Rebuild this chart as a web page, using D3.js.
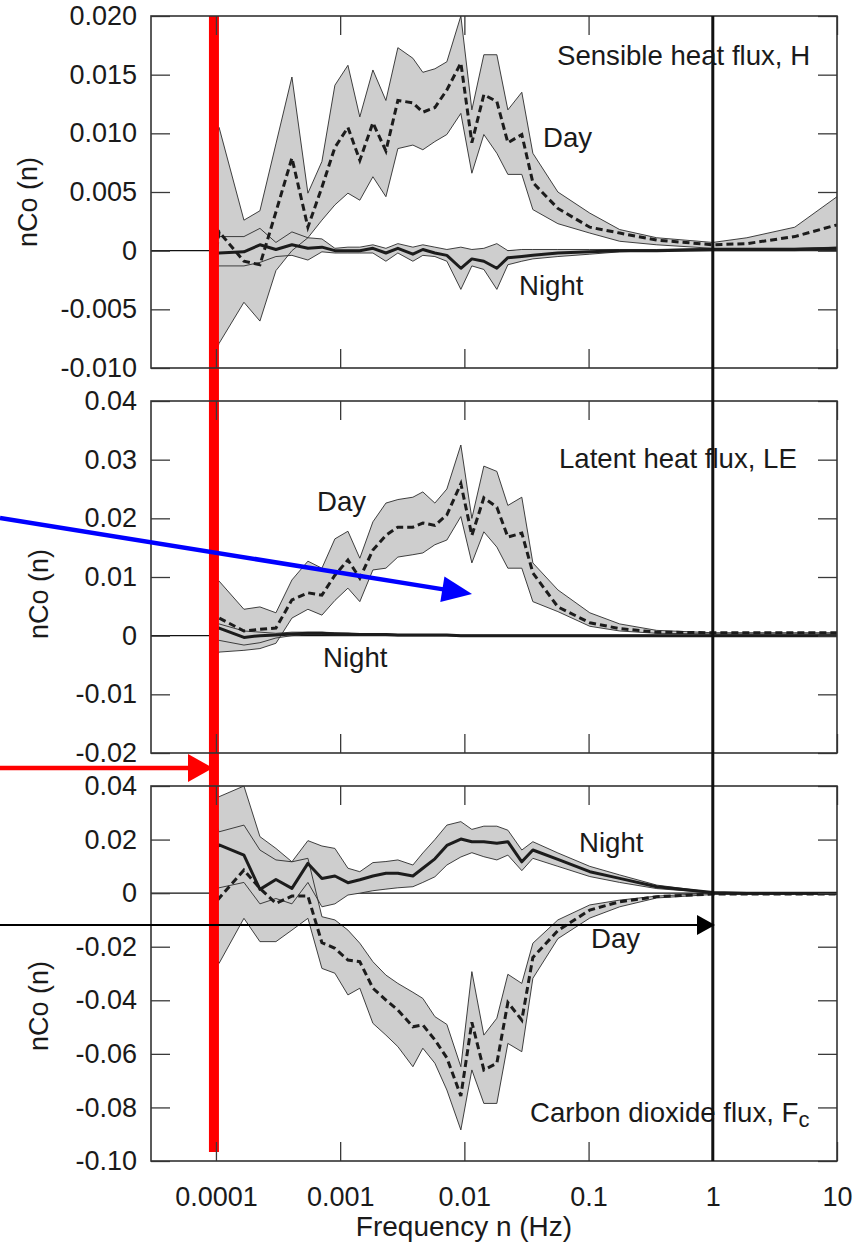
<!DOCTYPE html>
<html>
<head>
<meta charset="utf-8">
<title>Normalised cospectra H, LE, Fc</title>
<script src="https://cdn.jsdelivr.net/npm/d3@7"></script>
<style>
  body { margin: 0; background: #fff; }
  text { font-family: "Liberation Sans", Arial, Helvetica, sans-serif; fill: #1a1a1a; }
</style>
</head>
<body>
<script>
// frequency bins (Hz)
var freq = [9.12e-5, 1.06e-4, 1.68e-4, 2.26e-4, 3.04e-4, 4.09e-4, 5.50e-4, 7.13e-4, 9.07e-4, 1.155e-3,
            1.44e-3, 1.835e-3, 2.335e-3, 2.915e-3, 3.85e-3, 4.63e-3, 5.79e-3, 7.23e-3, 9.37e-3, 1.149e-2,
            1.435e-2, 1.826e-2, 2.24e-2, 2.90e-2, 3.56e-2, 5.66e-2, 0.1023, 0.178, 0.354, 1.0,
            1.88, 4.57, 10];

// sensible heat flux H
var hDayMean = [-0.0036, 0.0016, -0.0009, -0.0012, 0.0033, 0.0079, 0.0020, 0.0054, 0.0088, 0.0105, 0.0077, 0.0109, 0.0085, 0.0128, 0.0126, 0.0118, 0.0122, 0.0137, 0.0160, 0.0092, 0.0133, 0.0127, 0.0092, 0.0099, 0.0058, 0.0036, 0.0020, 0.0015, 0.0009, 0.0005, 0.0006, 0.0012, 0.0022];
var hDayHi   = [0.0082, 0.0105, 0.0026, 0.0034, 0.0091, 0.0148, 0.0049, 0.0076, 0.0141, 0.0158, 0.0114, 0.0154, 0.0128, 0.0173, 0.0164, 0.0152, 0.0155, 0.0161, 0.0200, 0.0120, 0.0167, 0.0167, 0.0120, 0.0135, 0.0083, 0.0050, 0.0032, 0.0018, 0.0011, 0.0007, 0.0011, 0.0020, 0.0046];
var hDayLo   = [-0.0100, -0.0079, -0.0044, -0.0060, -0.0017, 0.0000, 0.0011, 0.0026, 0.0039, 0.0049, 0.0043, 0.0063, 0.0046, 0.0087, 0.0090, 0.0086, 0.0093, 0.0099, 0.0117, 0.0066, 0.0099, 0.0083, 0.0065, 0.0065, 0.0035, 0.0023, 0.0015, 0.0008, 0.0005, 0.0002, 0.0002, 0.0002, 0.0002];
var hNightMean = [-0.0002, -0.0002, -0.0001, 0.0005, 0.0001, 0.0005, 0.0002, 0.0003, 0.0000, 0.0000, 0.0000, 0.0002, -0.0002, 0.0002, -0.0003, 0.0001, -0.0002, -0.0004, -0.0015, -0.0007, -0.0009, -0.0015, -0.0006, -0.0005, -0.0004, -0.0002, -0.0001, 0.0000, 0.0000, 0.0001, 0.0001, 0.0001, 0.0002];
var hNightHi   = [0.0011, 0.0012, 0.0012, 0.0019, 0.0007, 0.0016, 0.0011, 0.0010, 0.0002, 0.0003, 0.0003, 0.0005, 0.0002, 0.0006, 0.0003, 0.0005, 0.0003, 0.0001, 0.0003, 0.0001, 0.0002, 0.0006, 0.0000, 0.0001, 0.0001, 0.0001, 0.0001, 0.0001, 0.0001, 0.0002, 0.0002, 0.0002, 0.0003];
var hNightLo   = [-0.0013, -0.0013, -0.0013, -0.0010, -0.0005, -0.0004, -0.0008, -0.0001, -0.0002, -0.0002, -0.0002, -0.0002, -0.0009, -0.0002, -0.0009, -0.0004, -0.0005, -0.0009, -0.0033, -0.0013, -0.0016, -0.0033, -0.0012, -0.0009, -0.0007, -0.0005, -0.0003, -0.0001, 0.0000, 0.0000, 0.0000, 0.0000, 0.0001];

// latent heat flux LE
var leDayMean = [0.0018, 0.0030, 0.0008, 0.0011, 0.0013, 0.0061, 0.0073, 0.0069, 0.0103, 0.0129, 0.0098, 0.0146, 0.0171, 0.0185, 0.0185, 0.0192, 0.0188, 0.0206, 0.0259, 0.0171, 0.0235, 0.0219, 0.0168, 0.0175, 0.0107, 0.0049, 0.0022, 0.0012, 0.0006, 0.0005, 0.0005, 0.0005, 0.0005];
var leDayHi   = [0.0086, 0.0093, 0.0045, 0.0049, 0.0039, 0.0095, 0.0127, 0.0115, 0.0165, 0.0178, 0.0132, 0.0194, 0.0226, 0.0232, 0.0236, 0.0245, 0.0226, 0.0250, 0.0325, 0.0200, 0.0289, 0.0280, 0.0222, 0.0236, 0.0124, 0.0078, 0.0039, 0.0020, 0.0009, 0.0005, 0.0005, 0.0005, 0.0005];
var leDayLo   = [-0.0047, -0.0028, -0.0025, -0.0022, -0.0013, 0.0030, 0.0045, 0.0035, 0.0060, 0.0081, 0.0058, 0.0112, 0.0115, 0.0134, 0.0138, 0.0141, 0.0155, 0.0163, 0.0203, 0.0124, 0.0177, 0.0151, 0.0115, 0.0115, 0.0058, 0.0041, 0.0016, 0.0008, 0.0004, 0.0003, 0.0003, 0.0003, 0.0003];
var leNightMean = [0.0010, 0.0013, -0.0003, 0.0000, 0.0001, 0.0003, 0.0004, 0.0004, 0.0003, 0.0003, 0.0002, 0.0002, 0.0002, 0.0001, 0.0001, 0.0001, 0.0001, 0.0001, 0, 0, 0, 0, 0, 0, 0, 0, 0, 0, 0, 0, 0, 0, 0];
var leNightHi   = [0.0017, 0.0020, 0.0008, 0.0006, 0.0004, 0.0006, 0.0006, 0.0006, 0.0005, 0.0004, 0.0003, 0.0003, 0.0003, 0.0002, 0.0002, 0.0002, 0.0002, 0.0002, 0.0001, 0.0001, 0.0001, 0.0001, 0.0001, 0.0001, 0.0001, 0.0001, 0.0001, 0.0001, 0.0001, 0.0001, 0.0001, 0.0001, 0.0001];
var leNightLo   = [-0.0005, -0.0008, -0.0016, -0.0012, -0.0004, 0.0000, 0.0002, 0.0002, 0.0001, 0.0001, 0.0001, 0.0001, 0.0001, 0, 0, 0, 0, 0, -0.0001, -0.0001, -0.0001, -0.0001, -0.0001, -0.0001, -0.0001, -0.0001, -0.0001, -0.0001, -0.0001, -0.0001, -0.0001, -0.0001, -0.0001];

// carbon dioxide flux Fc
var fcDayMean = [0.0067, -0.0019, 0.0086, 0.0018, -0.0038, -0.0011, -0.0011, -0.0185, -0.0206, -0.0250, -0.0256, -0.0355, -0.0399, -0.0436, -0.0499, -0.0492, -0.0548, -0.0615, -0.0757, -0.0482, -0.0660, -0.0635, -0.0408, -0.0474, -0.0240, -0.0140, -0.0063, -0.0032, -0.0013, -0.0003, -0.0003, -0.0003, -0.0003];
var fcDayHi   = [0.0304, 0.0229, 0.0254, 0.0161, 0.0124, 0.0117, 0.0130, -0.0088, -0.0100, -0.0138, -0.0187, -0.0256, -0.0306, -0.0337, -0.0370, -0.0393, -0.0461, -0.0490, -0.0648, -0.0293, -0.0530, -0.0467, -0.0303, -0.0337, -0.0187, -0.0100, -0.0044, -0.0026, -0.0011, 0.0000, 0.0000, 0.0000, 0.0000];
var fcDayLo   = [-0.0219, -0.0262, -0.0094, -0.0181, -0.0181, -0.0138, -0.0094, -0.0281, -0.0299, -0.0380, -0.0355, -0.0486, -0.0530, -0.0573, -0.0648, -0.0579, -0.0635, -0.0735, -0.0884, -0.0660, -0.0785, -0.0785, -0.0561, -0.0592, -0.0318, -0.0170, -0.0093, -0.0051, -0.0018, -0.0005, -0.0005, -0.0005, -0.0005];
var fcNightMean = [0.0142, 0.0180, 0.0142, 0.0014, 0.0051, 0.0018, 0.0111, 0.0055, 0.0064, 0.0039, 0.0050, 0.0064, 0.0074, 0.0074, 0.0064, 0.0093, 0.0128, 0.0178, 0.0202, 0.0192, 0.0192, 0.0186, 0.0192, 0.0117, 0.0161, 0.0126, 0.0080, 0.0055, 0.0024, 0.0002, 0.0000, 0.0000, 0.0000];
var fcNightHi   = [0.0385, 0.0360, 0.0400, 0.0211, 0.0167, 0.0117, 0.0196, 0.0176, 0.0167, 0.0093, 0.0080, 0.0114, 0.0118, 0.0124, 0.0105, 0.0150, 0.0200, 0.0254, 0.0267, 0.0238, 0.0250, 0.0250, 0.0235, 0.0161, 0.0192, 0.0150, 0.0100, 0.0068, 0.0030, 0.0003, 0.0000, 0.0000, 0.0000];
var fcNightLo   = [0.0000, 0.0020, 0.0040, -0.0040, -0.0020, -0.0040, 0.0040, -0.0051, -0.0040, -0.0007, 0.0000, 0.0009, 0.0015, 0.0020, 0.0024, 0.0040, 0.0061, 0.0105, 0.0135, 0.0151, 0.0136, 0.0124, 0.0142, 0.0084, 0.0130, 0.0100, 0.0062, 0.0040, 0.0017, 0.0001, 0.0000, 0.0000, 0.0000];

// axes
var xTicks = [1e-4, 1e-3, 1e-2, 0.1, 1, 10];
var xTickLabels = ["0.0001", "0.001", "0.01", "0.1", "1", "10"];
var hTicks  = [-0.010, -0.005, 0, 0.005, 0.010, 0.015, 0.020];
var leTicks = [-0.02, -0.01, 0, 0.01, 0.02, 0.03, 0.04];
var fcTicks = [-0.10, -0.08, -0.06, -0.04, -0.02, 0, 0.02, 0.04];

var width = 855, height = 1245;
var left = 151, right = 837;
var tickLen = 19;

var svg = d3.select("body").append("svg")
            .attr("width", width)
            .attr("height", height);

var x = d3.scaleLog()
          .domain([3e-5, 10])
          .range([left, right]);

function fmt(p) {
    var f = d3.format("." + p + "f");
    return function(d) { return d === 0 ? "0" : f(d).replace("\u2212", "-"); };
}

var panels = [
    { top: 16,  bottom: 368,  ticks: hTicks,  fmt: fmt(3), labX: 37,
      day: [hDayMean, hDayLo, hDayHi], night: [hNightMean, hNightLo, hNightHi] },
    { top: 401, bottom: 753,  ticks: leTicks, fmt: fmt(2), labX: 48,
      day: [leDayMean, leDayLo, leDayHi], night: [leNightMean, leNightLo, leNightHi] },
    { top: 786, bottom: 1161, ticks: fcTicks, fmt: fmt(2), labX: 48,
      day: [fcDayMean, fcDayLo, fcDayHi], night: [fcNightMean, fcNightLo, fcNightHi] }
];
var yLabelCenters = [202, 594, 1006];

var dataLayer = svg.append("g");
var overLayer = svg.append("g");
var axisLayer = svg.append("g");
var topLayer = svg.append("g");

panels.forEach(function(p, k) {
    var y = d3.scaleLinear()
              .domain([p.ticks[0], p.ticks[p.ticks.length - 1]])
              .range([p.bottom, p.top]);
    p.y = y;

    svg.append("clipPath").attr("id", "clip" + k)
       .append("rect")
       .attr("x", left).attr("y", p.top)
       .attr("width", right - left).attr("height", p.bottom - p.top);

    var g = dataLayer.append("g").attr("clip-path", "url(#clip" + k + ")");

    // zero line
    g.append("line")
     .attr("x1", left).attr("x2", right)
     .attr("y1", y(0)).attr("y2", y(0))
     .attr("stroke", "#111").attr("stroke-width", 1.4);

    var idx = d3.range(freq.length);
    var band = function(s) {
        return d3.area()
                 .x(function(i) { return x(freq[i]); })
                 .y0(function(i) { return y(s[1][i]); })
                 .y1(function(i) { return y(s[2][i]); });
    };
    var line = function(arr) {
        return d3.line()
                 .x(function(i) { return x(freq[i]); })
                 .y(function(i) { return y(arr[i]); });
    };

    [p.day, p.night].forEach(function(s) {
        g.append("path").attr("d", band(s)(idx))
         .attr("fill", "#cecece").attr("stroke", "none");
    });
    [p.day, p.night].forEach(function(s) {
        [s[1], s[2]].forEach(function(arr) {
            g.append("path").attr("d", line(arr)(idx))
             .attr("fill", "none").attr("stroke", "#2b2b2b").attr("stroke-width", 0.9);
        });
    });
    g.append("path").attr("d", line(p.night[0])(idx))
     .attr("fill", "none").attr("stroke", "#1c1c1c").attr("stroke-width", 3)
     .attr("stroke-linejoin", "round");
    g.append("path").attr("d", line(p.day[0])(idx))
     .attr("fill", "none").attr("stroke", "#1c1c1c").attr("stroke-width", 3)
     .attr("stroke-dasharray", "7,4");

    // axes, ticks pointing inwards on all four sides
    var ax = axisLayer.append("g");
    ax.append("g").attr("transform", "translate(" + left + ",0)")
      .call(d3.axisLeft(y).tickValues(p.ticks).tickFormat(p.fmt)
              .tickSizeInner(-tickLen).tickSizeOuter(0).tickPadding(14));
    ax.append("g").attr("transform", "translate(" + right + ",0)")
      .call(d3.axisRight(y).tickValues(p.ticks).tickFormat("")
              .tickSizeInner(-tickLen).tickSizeOuter(0));
    ax.append("g").attr("transform", "translate(0," + p.top + ")")
      .call(d3.axisTop(x).tickValues(xTicks).tickFormat("")
              .tickSizeInner(-tickLen).tickSizeOuter(0));
    var xb = d3.axisBottom(x).tickValues(xTicks).tickSizeInner(-tickLen).tickSizeOuter(0).tickPadding(26);
    xb.tickFormat(k === 2 ? function(d, i) { return xTickLabels[i]; } : "");
    ax.append("g").attr("transform", "translate(0," + p.bottom + ")").call(xb);

    ax.selectAll(".domain").remove();
    ax.selectAll(".tick line").attr("stroke", "#3a3a3a").attr("stroke-width", 1.3);
    ax.selectAll("g").attr("font-size", null).attr("font-family", null);
    ax.selectAll("text").style("font-size", "27px").attr("fill", "#1a1a1a");

    ax.append("rect")
      .attr("x", left).attr("y", p.top)
      .attr("width", right - left).attr("height", p.bottom - p.top)
      .attr("fill", "none").attr("stroke", "#333").attr("stroke-width", 1.6);

    topLayer.append("text")
       .attr("transform", "translate(" + p.labX + "," + yLabelCenters[k] + ") rotate(-90)")
       .attr("text-anchor", "middle")
       .style("font-size", "27px")
       .text("nCo (n)");
});

// red marker bar at the low frequency end
overLayer.append("rect")
    .attr("x", x(1e-4) - 7).attr("y", 16)
    .attr("width", 10).attr("height", 1152 - 16)
    .attr("fill", "#ff0000");

// vertical line at 1 Hz
topLayer.append("line")
    .attr("x1", x(1)).attr("x2", x(1))
    .attr("y1", 16).attr("y2", 1161)
    .attr("stroke", "#111").attr("stroke-width", 3);

function arrow(layer, x0, y0, x1, y1, color, w, headLen, headHalf) {
    var dx = x1 - x0, dy = y1 - y0, len = Math.sqrt(dx * dx + dy * dy);
    var ux = dx / len, uy = dy / len;
    var bx = x1 - ux * headLen, by = y1 - uy * headLen;
    layer.append("line")
         .attr("x1", x0).attr("y1", y0).attr("x2", bx + ux).attr("y2", by + uy)
         .attr("stroke", color).attr("stroke-width", w);
    layer.append("polygon")
         .attr("points", [[x1, y1], [bx - uy * headHalf, by + ux * headHalf], [bx + uy * headHalf, by - ux * headHalf]]
               .map(function(q) { return q.join(","); }).join(" "))
         .attr("fill", color);
}

arrow(topLayer, 0, 518, 472, 594, "#0000ff", 4.5, 30, 13);
arrow(topLayer, 0, 768, 213, 768, "#ff0000", 4.5, 25, 14);
arrow(topLayer, 0, 925, 715, 925, "#000", 2, 18, 10);

// annotations
var notes = [
    { t: "Sensible heat flux, H", x: 557, y: 65 },
    { t: "Day", x: 543, y: 147 },
    { t: "Night", x: 519, y: 295 },
    { t: "Latent heat flux, LE", x: 559, y: 468 },
    { t: "Day", x: 317, y: 511 },
    { t: "Night", x: 323, y: 667 },
    { t: "Night", x: 579, y: 852 },
    { t: "Day", x: 591, y: 948 }
];
notes.forEach(function(n) {
    axisLayer.append("text").attr("x", n.x).attr("y", n.y)
        .style("font-size", "27.6px").text(n.t);
});
var co2 = axisLayer.append("text").attr("x", 530).attr("y", 1122).style("font-size", "27.6px");
co2.append("tspan").text("Carbon dioxide flux, F");
co2.append("tspan").attr("dy", 5).style("font-size", "22px").text("c");

topLayer.append("text")
    .attr("x", 464).attr("y", 1236)
    .attr("text-anchor", "middle")
    .style("font-size", "28px")
    .text("Frequency n (Hz)");
</script>
</body>
</html>
